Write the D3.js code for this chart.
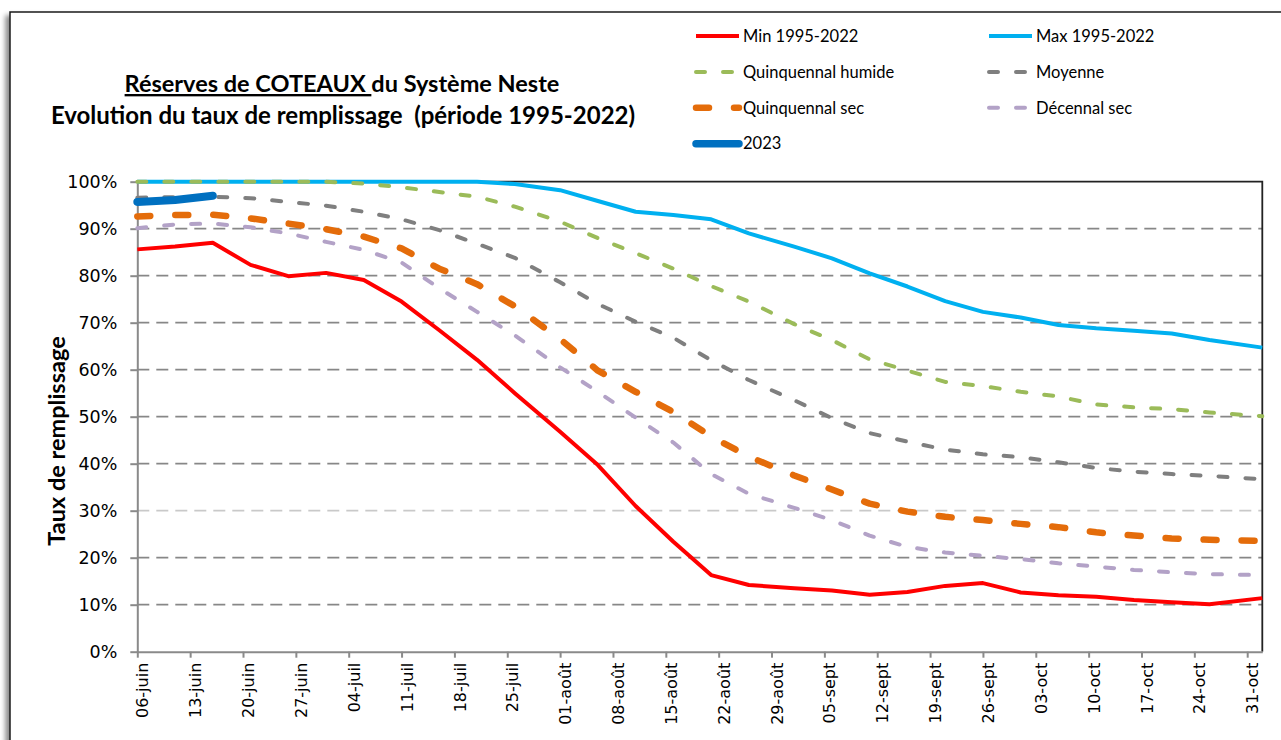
<!DOCTYPE html>
<html>
<head>
<meta charset="utf-8">
<script src="https://cdn.jsdelivr.net/npm/d3@7"></script>
<style>
  body { margin: 0; background: #fff; }
  svg { display: block; }
</style>
</head>
<body>
<div id="chart"></div>
<script>
// dates of the points (1, 6, 11, 16, 21, 26 of each month)
var dates = ["2023-06-06", "2023-06-11", "2023-06-16", "2023-06-21", "2023-06-26",
  "2023-07-01", "2023-07-06", "2023-07-11", "2023-07-16", "2023-07-21", "2023-07-26",
  "2023-08-01", "2023-08-06", "2023-08-11", "2023-08-16", "2023-08-21", "2023-08-26",
  "2023-09-01", "2023-09-06", "2023-09-11", "2023-09-16", "2023-09-21", "2023-09-26",
  "2023-10-01", "2023-10-06", "2023-10-11", "2023-10-16", "2023-10-21", "2023-10-26",
  "2023-11-02"]

var minVals = [85.6, 86.2, 87.0, 82.3, 79.9, 80.6, 79.1, 74.5, 68.4, 62.1, 55.0,
  46.8, 39.7, 31.0, 23.4, 16.3, 14.2, 13.5, 13.0, 12.1, 12.7, 14.0, 14.6,
  12.6, 12.0, 11.7, 11.0, 10.5, 10.1, 11.4]
var maxVals = [100, 100, 100, 100, 100, 100, 100, 100, 100, 100, 99.5,
  98.2, 95.9, 93.6, 92.9, 92.0, 89.0, 86.2, 83.7, 80.5, 77.7, 74.6, 72.3,
  71.1, 69.5, 68.8, 68.3, 67.7, 66.3, 64.7]
var humideVals = [100, 100, 100, 100, 100, 100, 99.6, 98.8, 97.8, 96.8, 94.7,
  91.5, 88.0, 84.8, 81.5, 77.8, 74.5, 69.7, 66.3, 62.2, 59.8, 57.4, 56.5,
  55.3, 54.3, 52.6, 52.0, 51.6, 50.9, 50.1]
var moyenneVals = [96.6, 96.7, 96.8, 96.5, 95.7, 94.9, 93.6, 92.0, 89.7, 86.8, 83.8,
  78.6, 74.0, 70.2, 66.8, 62.0, 57.8, 53.5, 49.7, 46.5, 44.7, 43.0, 42.0,
  41.4, 40.3, 39.1, 38.3, 37.8, 37.4, 36.7]
var secVals = [92.6, 92.9, 93.0, 92.2, 91.1, 89.9, 88.3, 85.8, 81.5, 78.2, 73.5,
  66.5, 59.8, 55.3, 51.0, 45.8, 41.5, 37.5, 34.5, 31.5, 29.8, 28.7, 28.0,
  27.2, 26.5, 25.4, 24.7, 24.1, 23.8, 23.6]
var decennalVals = [90.1, 90.9, 91.1, 90.3, 89.0, 87.2, 85.5, 82.8, 77.3, 72.3, 67.3,
  60.5, 55.3, 49.8, 44.5, 37.8, 33.6, 30.6, 28.0, 24.7, 22.3, 21.1, 20.4,
  19.7, 18.8, 18.1, 17.4, 16.9, 16.5, 16.3]
var vals2023 = [95.7, 96.1, 97.0]

var tickDates = ["2023-06-06", "2023-06-13", "2023-06-20", "2023-06-27", "2023-07-04",
  "2023-07-11", "2023-07-18", "2023-07-25", "2023-08-01", "2023-08-08", "2023-08-15",
  "2023-08-22", "2023-08-29", "2023-09-05", "2023-09-12", "2023-09-19", "2023-09-26",
  "2023-10-03", "2023-10-10", "2023-10-17", "2023-10-24", "2023-10-31"]
var tickLabels = ["06-juin", "13-juin", "20-juin", "27-juin", "04-juil", "11-juil",
  "18-juil", "25-juil", "01-août", "08-août", "15-août", "22-août", "29-août",
  "05-sept", "12-sept", "19-sept", "26-sept", "03-oct", "10-oct", "17-oct",
  "24-oct", "31-oct"]
var yTicks = [0, 10, 20, 30, 40, 50, 60, 70, 80, 90, 100]

var parse = d3.timeParse("%Y-%m-%d")

// series drawn in Excel order, 2023 on top
var series = [
  { name: "Min 1995-2022", vals: minVals, color: "#ff0000", width: 4, dash: null, col: 0, row: 0 },
  { name: "Max 1995-2022", vals: maxVals, color: "#00b0f0", width: 4, dash: null, col: 1, row: 0 },
  { name: "Quinquennal humide", vals: humideVals, color: "#9bbb59", width: 4, dash: "9,18", col: 0, row: 1 },
  { name: "Moyenne", vals: moyenneVals, color: "#7f7f7f", width: 4, dash: "9,18", col: 1, row: 1 },
  { name: "Quinquennal sec", vals: secVals, color: "#e46c0a", width: 6.5, dash: "13,25", col: 0, row: 2 },
  { name: "Décennal sec", vals: decennalVals, color: "#b3a2c7", width: 4, dash: "9,18", col: 1, row: 2 },
  { name: "2023", vals: vals2023, color: "#0070c0", width: 8, dash: null, col: 0, row: 3 }
]

var W = 1281, H = 740
var plot = { left: 137.3, top: 181.7, right: 1262.3, bottom: 651.7 }

var svg = d3.select("#chart").append("svg")
  .attr("width", W)
  .attr("height", H)

// frame with a soft shadow on the left
var defs = svg.append("defs")
var shadow = defs.append("filter").attr("id", "shadow")
  .attr("x", "-5%").attr("y", "-5%").attr("width", "110%").attr("height", "110%")
shadow.append("feDropShadow")
  .attr("dx", -4).attr("dy", 4).attr("stdDeviation", 2.5)
  .attr("flood-color", "#000").attr("flood-opacity", 0.45)

svg.append("rect")
  .attr("x", 10).attr("y", 12)
  .attr("width", 1300).attr("height", 780)
  .attr("fill", "#fff")
  .attr("stroke", "#1a1a1a")
  .attr("stroke-width", 1.5)
  .attr("filter", "url(#shadow)")

var x = d3.scaleTime()
  .domain([parse("2023-06-06"), parse("2023-11-02")])
  .range([plot.left, plot.right])

var y = d3.scaleLinear()
  .domain([0, 100])
  .range([plot.bottom, plot.top])

// horizontal grid
svg.append("g").attr("class", "grid")
  .selectAll("line")
  .data(yTicks.filter(function (d) { return d > 0 && d < 100 }))
  .enter().append("line")
  .attr("x1", plot.left)
  .attr("x2", plot.right)
  .attr("y1", function (d) { return y(d) })
  .attr("y2", function (d) { return y(d) })
  .attr("stroke", function (d) { return d == 30 ? "#c9c9c9" : "#878787" })
  .attr("stroke-width", 1.8)
  .attr("stroke-dasharray", "12,7")

// plot frame (top and right are black)
svg.append("path")
  .attr("d", "M" + plot.left + "," + y(100) + "H" + plot.right + "V" + plot.bottom)
  .attr("fill", "none")
  .attr("stroke", "#222")
  .attr("stroke-width", 1.8)

// Y axis
var yAxis = svg.append("g")
  .attr("transform", "translate(" + plot.left + ",0)")
  .call(d3.axisLeft(y).tickValues(yTicks).tickFormat(function (d) { return d + "%" })
    .tickSize(7).tickPadding(13).tickSizeOuter(0))
yAxis.select(".domain").attr("stroke", "#8a8a8a").attr("stroke-width", 2)
yAxis.selectAll(".tick line").attr("stroke", "#8a8a8a").attr("stroke-width", 2)
yAxis.selectAll("text")
  .style("font-family", "'DejaVu Sans', Verdana, sans-serif")
  .style("font-size", "17.5px")
  .attr("fill", "#000")

// X axis
var xAxis = svg.append("g")
  .attr("transform", "translate(0," + plot.bottom + ")")
  .call(d3.axisBottom(x).tickValues(tickDates.map(parse))
    .tickFormat(function (d, i) { return tickLabels[i] })
    .tickSize(6).tickSizeOuter(0))
xAxis.select(".domain").attr("stroke", "#8a8a8a").attr("stroke-width", 2)
xAxis.selectAll(".tick line").attr("stroke", "#8a8a8a").attr("stroke-width", 2)
xAxis.selectAll("text")
  .attr("transform", "rotate(-90)")
  .attr("x", -11)
  .attr("y", 5)
  .attr("dy", "0.35em")
  .style("text-anchor", "end")
  .style("font-family", "'DejaVu Sans', Verdana, sans-serif")
  .style("font-size", "16px")
  .attr("fill", "#000")

// lines
var line = d3.line()
  .x(function (d) { return x(d.date) })
  .y(function (d) { return y(d.value) })

series.forEach(function (s) {
  var pts = s.vals.map(function (v, i) { return { date: parse(dates[i]), value: v } })
  svg.append("path")
    .datum(pts)
    .attr("d", line)
    .attr("fill", "none")
    .attr("stroke", s.color)
    .attr("stroke-width", s.width)
    .attr("stroke-dasharray", s.dash)
    .attr("stroke-linecap", s.dash || s.name == "2023" ? "round" : "butt")
    .attr("stroke-linejoin", "round")
})

// y axis title
svg.append("text")
  .attr("transform", "translate(65,441) rotate(-90)")
  .attr("text-anchor", "middle")
  .style("font-family", "Lato, 'Open Sans', sans-serif")
  .style("font-weight", "bold")
  .style("font-size", "23.5px")
  .text("Taux de remplissage")

// title
var title = svg.append("text")
  .attr("x", 342)
  .attr("y", 92)
  .attr("text-anchor", "middle")
  .style("font-family", "Lato, 'Open Sans', sans-serif")
  .style("font-weight", "bold")
  .style("font-size", "23.5px")
title.append("tspan").style("text-decoration", "underline").text("Réserves de COTEAUX ")
title.append("tspan").text("du Système Neste")

svg.append("text")
  .attr("x", 343)
  .attr("y", 124)
  .attr("text-anchor", "middle")
  .style("font-family", "Lato, 'Open Sans', sans-serif")
  .style("font-weight", "bold")
  .style("font-size", "24px")
  .style("white-space", "pre")
  .text("Evolution du taux de remplissage  (période 1995-2022)")

// legend
var legCols = [696, 989]
var legend = svg.selectAll(".legend")
  .data(series)
  .enter().append("g")
  .attr("class", "legend")
  .attr("transform", function (d) {
    return "translate(" + legCols[d.col] + "," + (36 + d.row * 35.9) + ")"
  })

legend.append("line")
  .attr("x1", 0)
  .attr("x2", 43)
  .attr("stroke", function (d) { return d.color })
  .attr("stroke-width", function (d) { return d.name == "2023" ? 7.5 : d.width })
  .attr("stroke-dasharray", function (d) { return d.dash })
  .attr("stroke-linecap", function (d) { return d.dash || d.name == "2023" ? "round" : "butt" })

legend.append("text")
  .attr("x", 47)
  .attr("dy", "0.35em")
  .style("font-family", "Lato, 'Open Sans', sans-serif")
  .style("font-size", "16.5px")
  .text(function (d) { return d.name })
</script>
</body>
</html>
